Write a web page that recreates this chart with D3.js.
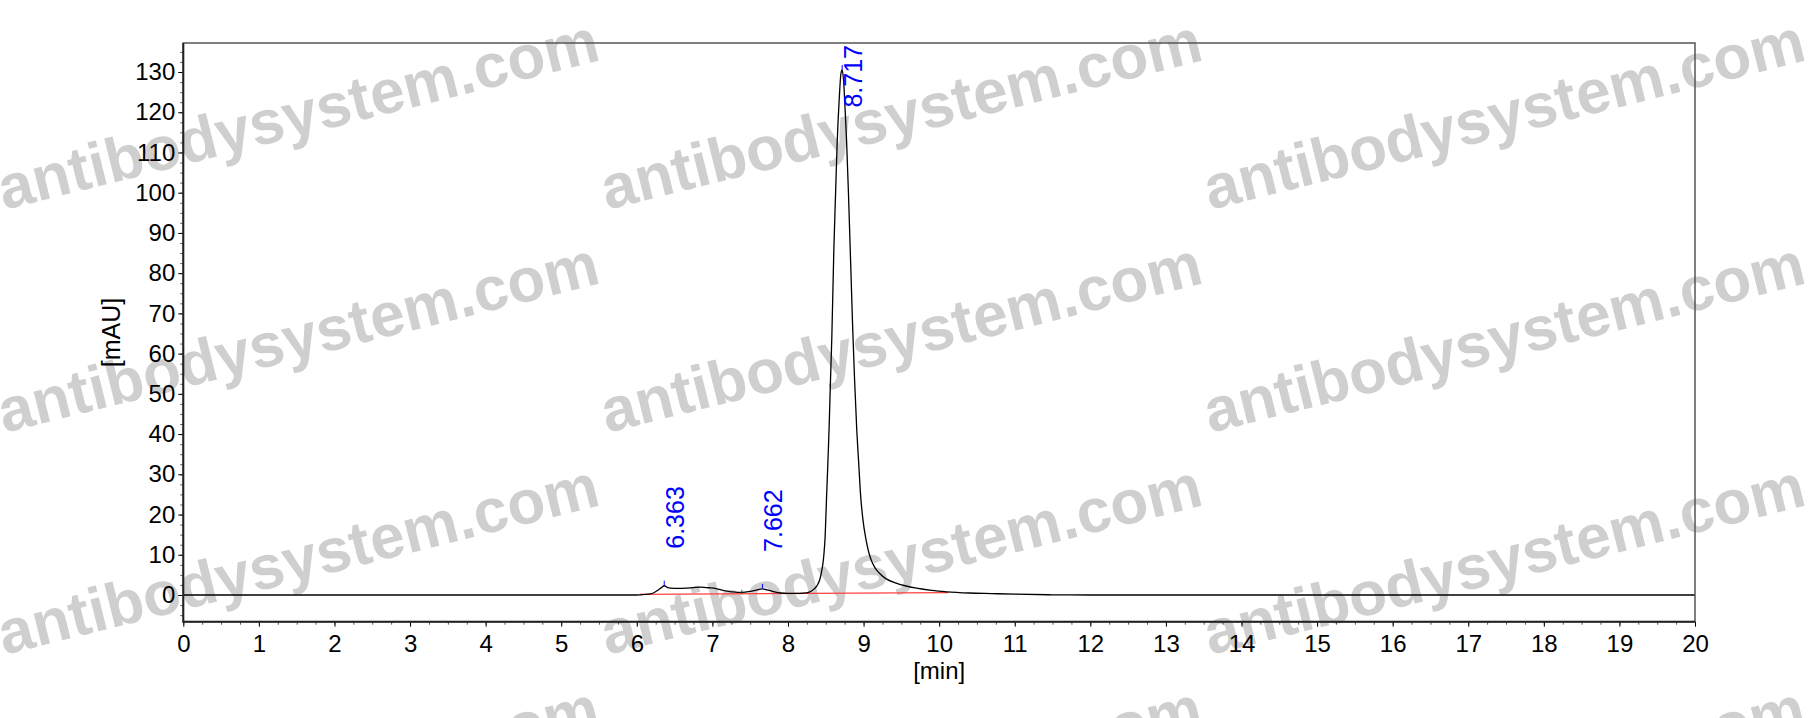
<!DOCTYPE html>
<html>
<head>
<meta charset="utf-8">
<script src="https://cdn.jsdelivr.net/npm/d3@7"></script>
<style>
  body { margin: 0; background: #fff; }
  svg { display: block; }
</style>
</head>
<body>
<div id="vis"></div>
<script>
const FRAME_WIDTH = 1818;
const FRAME_HEIGHT = 718;
const MARGINS = {left: 183.3, right: 123, top: 43, bottom: 96.3};

// chromatogram trace (time in min, signal in mAU)
const times = [0, 6.00, 6.05, 6.15, 6.22, 6.28, 6.33, 6.363, 6.40, 6.45, 6.55, 6.65, 6.75,
  6.85, 6.95, 7.05, 7.15, 7.25, 7.33, 7.40, 7.50, 7.58, 7.662, 7.72, 7.80, 7.90, 8.00,
  8.10, 8.20, 8.29, 8.34, 8.38, 8.42, 8.44, 8.46, 8.475, 8.49, 8.51, 8.53, 8.545, 8.56,
  8.58, 8.607, 8.63, 8.65, 8.68, 8.70, 8.717, 8.735, 8.755, 8.775, 8.80, 8.82, 8.84,
  8.855, 8.88, 8.91, 8.935, 8.96, 8.99, 9.03, 9.07, 9.105, 9.15, 9.21, 9.30, 9.44, 9.55,
  9.70, 9.90, 10.10, 10.40, 10.70, 11.00, 11.50, 12.00, 20];
const signal = [0, 0, 0.05, 0.2, 0.5, 1.2, 1.9, 2.3, 1.9, 1.7, 1.65, 1.7, 1.85,
  1.95, 1.8, 1.6, 1.1, 0.8, 0.65, 0.65, 0.9, 1.2, 1.5, 1.3, 0.9, 0.5, 0.4,
  0.4, 0.45, 0.8, 1.4, 2.2, 3.8, 5.4, 7.5, 10, 14, 24, 34, 42, 52,
  64, 86, 100, 112, 124, 129.5, 130.5, 128, 121, 113, 100, 88, 76,
  67, 54, 41, 33, 25, 19, 14, 10.5, 8.5, 6.8, 5.4, 4.0, 2.9, 2.3,
  1.7, 1.15, 0.8, 0.5, 0.35, 0.2, 0.05, 0, 0];

// integrated peaks
const peakTimes = [6.363, 7.662, 8.717];
const peakHeights = [2.3, 1.5, 130.5];

// integration baseline (start / end)
const baseTimes = [6.04, 10.12];
const baseValues = [0.17, 0.57];

// axis ticks
const xTicks = d3.range(0, 21, 1);
const xMinor = d3.range(0, 20.01, 0.25);
const yTicks = d3.range(0, 131, 10);
const yMinor = d3.range(-5, 135.1, 2.5);

const VIS_WIDTH = FRAME_WIDTH - MARGINS.left - MARGINS.right;
const VIS_HEIGHT = FRAME_HEIGHT - MARGINS.top - MARGINS.bottom;
const FONT = "'Liberation Sans', Arial, sans-serif";

const SVG = d3.select("#vis")
  .append("svg")
    .attr("width", FRAME_WIDTH)
    .attr("height", FRAME_HEIGHT);

// watermark, repeated over the whole picture
const WM_COLS = [4, 607, 1210];
const WM_ROWS = [210, 433, 655, 877];
WM_ROWS.forEach((wy) => {
  WM_COLS.forEach((wx) => {
    SVG.append("text")
      .attr("transform", "translate(" + wx + "," + wy + ") rotate(-14.1)")
      .attr("font-family", FONT)
      .attr("font-weight", "bold")
      .attr("font-size", 62)
      .attr("fill", "#cfcfcf")
      .text("antibodysystem.com");
  });
});

// scales
const X_SCALE = d3.scaleLinear()
  .domain([0, 20])
  .range([MARGINS.left, MARGINS.left + VIS_WIDTH]);

const Y_SCALE = d3.scaleLinear()
  .domain([-(621.7 - 595) / 4.023, (595 - 43) / 4.023])
  .range([MARGINS.top + VIS_HEIGHT, MARGINS.top]);

// minor ticks
SVG.append("g")
  .attr("transform", "translate(0," + (MARGINS.top + VIS_HEIGHT) + ")")
  .call(d3.axisBottom(X_SCALE).tickValues(xMinor).tickSize(3).tickFormat(""))
  .call(g => g.select(".domain").remove())
  .call(g => g.selectAll("line").attr("stroke", "#555"));

SVG.append("g")
  .attr("transform", "translate(" + MARGINS.left + ",0)")
  .call(d3.axisLeft(Y_SCALE).tickValues(yMinor).tickSize(3).tickFormat(""))
  .call(g => g.select(".domain").remove())
  .call(g => g.selectAll("line").attr("stroke", "#555"));

// major ticks with labels
SVG.append("g")
  .attr("transform", "translate(0," + (MARGINS.top + VIS_HEIGHT) + ")")
  .call(d3.axisBottom(X_SCALE).tickValues(xTicks).tickSize(5).tickPadding(8))
  .attr("font-family", FONT)
  .attr("font-size", 24)
  .call(g => g.select(".domain").remove())
  .call(g => g.selectAll("text").attr("fill", "#000"));

SVG.append("g")
  .attr("transform", "translate(" + MARGINS.left + ",0)")
  .call(d3.axisLeft(Y_SCALE).tickValues(yTicks).tickSize(5).tickPadding(3))
  .attr("font-family", FONT)
  .attr("font-size", 24)
  .call(g => g.select(".domain").remove())
  .call(g => g.selectAll("text").attr("fill", "#000"));

// integration baseline
SVG.append("line")
  .attr("x1", X_SCALE(baseTimes[0]))
  .attr("y1", Y_SCALE(baseValues[0]))
  .attr("x2", X_SCALE(baseTimes[1]))
  .attr("y2", Y_SCALE(baseValues[1]))
  .attr("stroke", "#ff4040")
  .attr("stroke-width", 1.2);

// trace
const trace = times.map((t, i) => [t, signal[i]]);
SVG.append("path")
  .datum(trace)
  .attr("fill", "none")
  .attr("stroke", "#000")
  .attr("stroke-width", 1.3)
  .attr("d", d3.line()
    .x(d => X_SCALE(d[0]))
    .y(d => Y_SCALE(d[1]))
    .curve(d3.curveMonotoneX));

// peak markers and labels
peakTimes.forEach((t, i) => {
  const px = X_SCALE(t);
  const py = Y_SCALE(peakHeights[i]);
  SVG.append("line")
    .attr("x1", px).attr("x2", px)
    .attr("y1", py - 5).attr("y2", py)
    .attr("stroke", "#0000ff")
    .attr("stroke-width", 1);
  const label = SVG.append("text")
    .attr("font-family", FONT)
    .attr("font-size", 25)
    .attr("fill", "#0000ff")
    .text(t.toFixed(3));
  const len = label.node().getComputedTextLength();
  // keep the label inside the frame
  const sy = Math.max(py - 37, MARGINS.top + len + 2);
  label.attr("transform", "translate(" + (px + 20) + "," + sy + ") rotate(-90)");
});

// valley marker
SVG.append("line")
  .attr("x1", X_SCALE(7.39)).attr("x2", X_SCALE(7.39))
  .attr("y1", Y_SCALE(1.3)).attr("y2", Y_SCALE(0.2))
  .attr("stroke", "#008000");

// frame
SVG.append("rect")
  .attr("x", MARGINS.left)
  .attr("y", MARGINS.top)
  .attr("width", VIS_WIDTH)
  .attr("height", VIS_HEIGHT)
  .attr("fill", "none")
  .attr("stroke", "#555")
  .attr("stroke-width", 1.5);

SVG.append("path")
  .attr("d", "M" + MARGINS.left + "," + MARGINS.top + "V" + (MARGINS.top + VIS_HEIGHT) +
    "H" + (MARGINS.left + VIS_WIDTH))
  .attr("fill", "none")
  .attr("stroke", "#222")
  .attr("stroke-width", 2);

// axis titles
SVG.append("text")
  .attr("x", X_SCALE(10))
  .attr("y", 679)
  .attr("text-anchor", "middle")
  .attr("font-family", FONT)
  .attr("font-size", 24)
  .text("[min]");

SVG.append("text")
  .attr("transform", "translate(119.5,332.5) rotate(-90)")
  .attr("text-anchor", "middle")
  .attr("font-family", FONT)
  .attr("font-size", 25)
  .text("[mAU]");
</script>
</body>
</html>
